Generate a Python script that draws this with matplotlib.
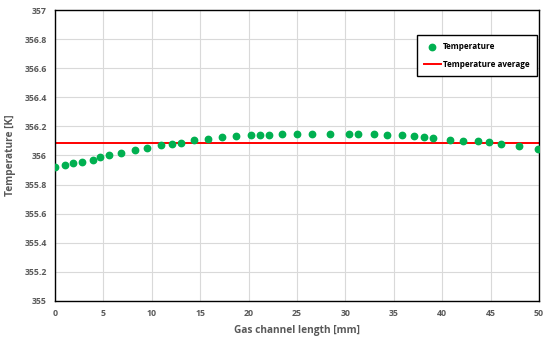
import matplotlib
matplotlib.use('Agg')
import matplotlib.pyplot as plt

# ========== data ==========
length_mm = [0.0, 1.0, 1.9, 2.8, 3.9, 4.7, 5.6, 6.8, 8.3, 9.5, 11.0, 12.1, 13.0,
             14.4, 15.8, 17.3, 18.7, 20.2, 21.2, 22.1, 23.5, 25.0, 26.5, 28.4,
             30.4, 31.3, 33.0, 34.3, 35.8, 37.1, 38.1, 39.0, 40.8, 42.2, 43.7,
             44.8, 46.1, 47.9, 49.9]
temperature = [355.919, 355.931, 355.945, 355.954, 355.970, 355.986, 356.005,
               356.016, 356.037, 356.053, 356.071, 356.081, 356.087, 356.103,
               356.115, 356.126, 356.131, 356.138, 356.138, 356.143, 356.149,
               356.149, 356.149, 356.149, 356.149, 356.149, 356.149, 356.143,
               356.138, 356.131, 356.126, 356.119, 356.108, 356.101, 356.097,
               356.092, 356.081, 356.065, 356.046]
temp_avg = 356.082

x_ticks = [0, 5, 10, 15, 20, 25, 30, 35, 40, 45, 50]
y_ticks = [355, 355.2, 355.4, 355.6, 355.8, 356, 356.2, 356.4, 356.6, 356.8, 357]

C_GREEN = '#00b050'
C_RED = '#ff0000'
C_TEXT = '#595959'
C_GRID = '#d9d9d9'

plt.rcParams['font.family'] = ['Open Sans', 'DejaVu Sans']

fig = plt.figure(figsize=(5.5, 3.45), dpi=100, facecolor='white')
ax = fig.add_axes([0.1, 0.128, 0.88, 0.843])

ax.plot(length_mm, temperature, 'o', color=C_GREEN, markersize=4.6,
        label='Temperature', zorder=3)
ax.plot([0, 50], [temp_avg, temp_avg], color=C_RED, linewidth=1.4,
        label='Temperature average', zorder=2)

ax.set_xlim(0, 50)
ax.set_ylim(355, 357)
ax.set_xticks(x_ticks)
ax.set_yticks(y_ticks)
ax.set_yticklabels([f'{v:g}' for v in y_ticks])
ax.grid(True, color=C_GRID, linewidth=0.8)
ax.set_axisbelow(True)
ax.tick_params(length=0, labelsize=6.3, labelcolor=C_TEXT, pad=6)
for t in ax.get_xticklabels() + ax.get_yticklabels():
    t.set_fontweight('bold')
for sp in ax.spines.values():
    sp.set_edgecolor('black')
    sp.set_linewidth(1.0)

ax.set_xlabel('Gas channel length [mm]', fontsize=7.3, fontweight='bold',
              color=C_TEXT, labelpad=5)
ax.set_ylabel('Temperature [K]', fontsize=7.3, fontweight='bold',
              color=C_TEXT, labelpad=6)

leg = ax.legend(loc='upper right', bbox_to_anchor=(0.996, 0.914),
                frameon=True, fancybox=False, borderpad=0.9, handlelength=2.0,
                handletextpad=0.3, labelspacing=1.0, borderaxespad=0,
                prop={'weight': 'bold', 'size': 5.9})
leg.get_frame().set_edgecolor('black')
leg.get_frame().set_linewidth(1.0)
leg.get_frame().set_alpha(1)

plt.savefig('out.png', dpi=100, facecolor='white')
plt.close()
